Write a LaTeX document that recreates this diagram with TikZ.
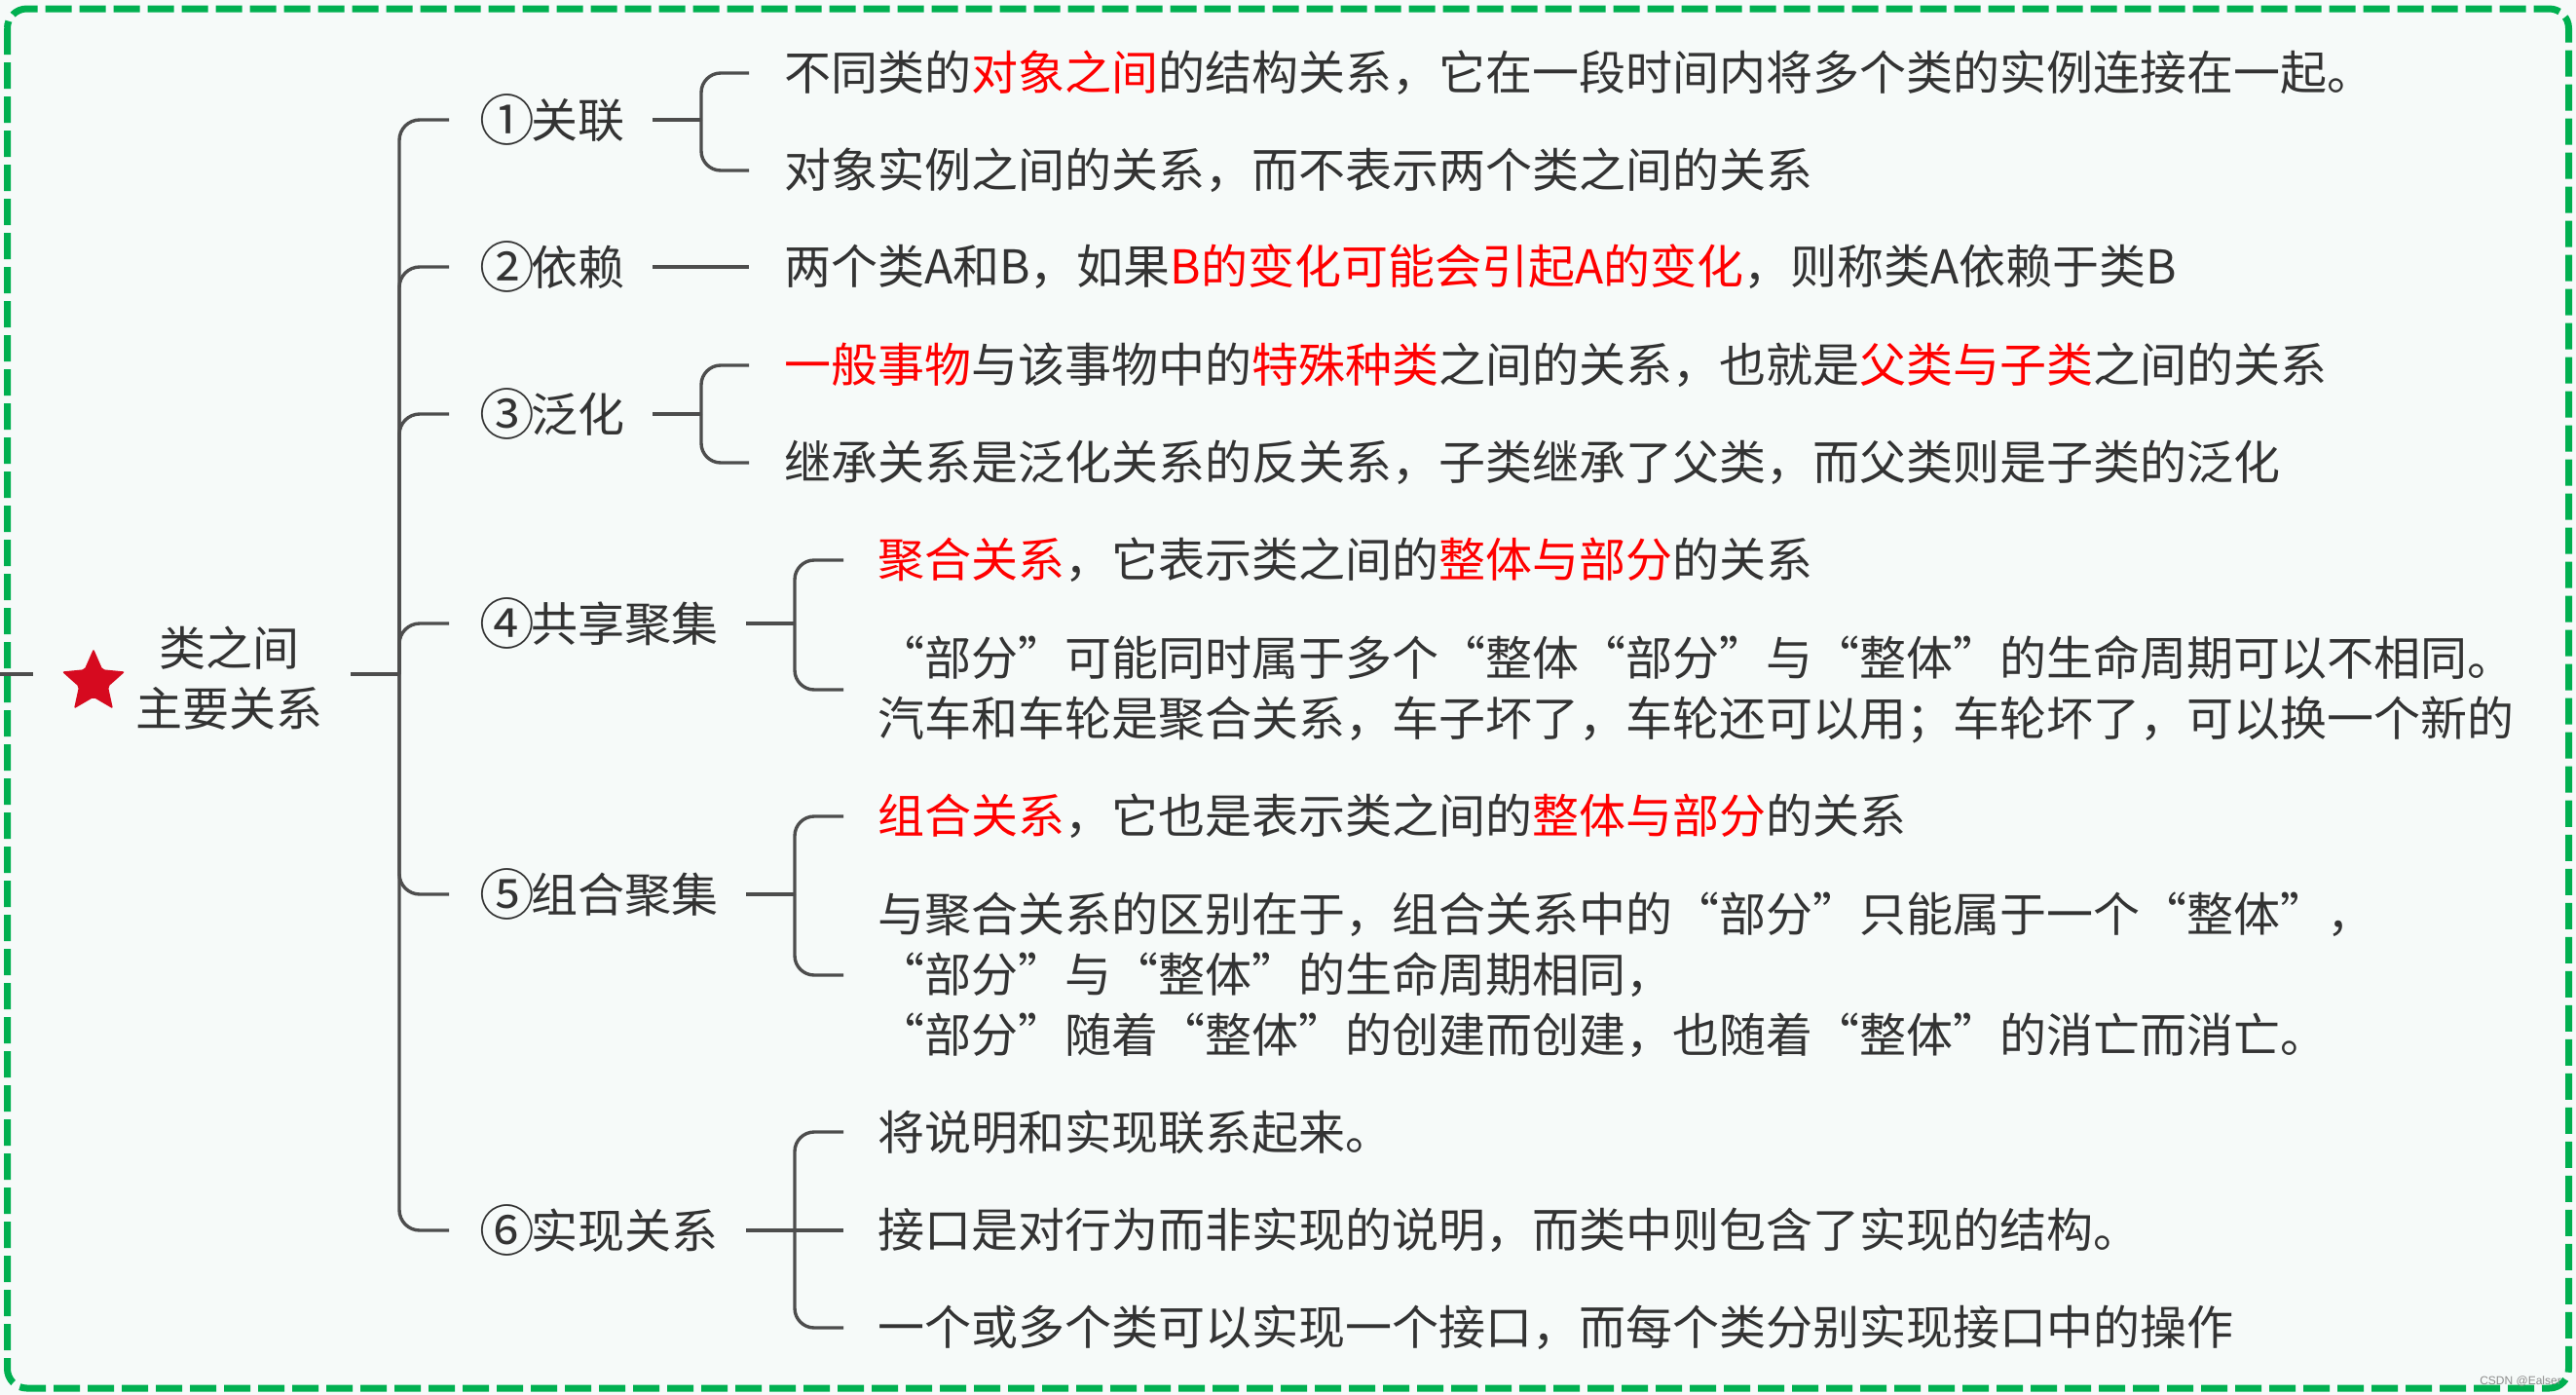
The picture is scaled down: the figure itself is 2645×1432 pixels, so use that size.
\documentclass[tikz,border=0pt]{standalone}
\usepackage{fontspec}
\setmainfont{Noto Sans CJK SC}
\newfontfamily\wmfont{Liberation Sans}
\usetikzlibrary{shapes.geometric}
\definecolor{bgc}{HTML}{F6FAF9}
\definecolor{framec}{HTML}{00B050}
\definecolor{txtc}{HTML}{333333}
\definecolor{lnc}{HTML}{4D4D4D}
\definecolor{hlc}{HTML}{FF0000}
\definecolor{starc}{HTML}{D60A1F}
\newcommand\emr[1]{\textcolor{hlc}{#1}}
\newcommand\oq{\makebox[1em][r]{“}}
\newcommand\cq{\makebox[1em][l]{”}}
\newcommand\circn[1]{\makebox[1em]{\raisebox{-0.07em}{\scalebox{1.18}{#1}}}}
\tikzset{
  conn/.style={draw=lnc, line width=3.4},
  lab/.style={anchor=west, inner sep=0, text=txtc, font=\fontsize{48}{62}\selectfont},
  leaf/.style={anchor=west, inner sep=0, text=txtc, align=left, font=\fontsize{48}{62}\selectfont},
}
\begin{document}
\begin{tikzpicture}[x=1pt,y=-1pt]
\useasboundingbox (0,0) rectangle (2645,1432);
\fill[bgc] (0,0) rectangle (2645,1432);
\draw[framec, line width=7, dash pattern=on 27 off 8, rounded corners=20] (7.5,9) rectangle (2637.5,1425);

% root
\node[star, star points=5, star point ratio=2.15, fill=starc, draw=none, minimum size=68, inner sep=0, rounded corners=2] (star) at (96,700) {};
\node[lab, anchor=center, align=center] (root) at (235,696) {类之间\\主要关系};
\coordinate (ls0) at (0,692);
\coordinate (ls1) at (34,692);
\draw[conn] (ls0) -- (ls1);
\coordinate (rs) at (360,692);
\coordinate (rj) at (410,692);
\draw[conn] (rs) -- (rj);

% branch labels
\node[lab] (l1) at (497,123) {\circn{①}关联};
\node[lab] (l2) at (497,274) {\circn{②}依赖};
\node[lab] (l3) at (497,425) {\circn{③}泛化};
\node[lab] (l4) at (497,640) {\circn{④}共享聚集};
\node[lab] (l5) at (497,918) {\circn{⑤}组合聚集};
\node[lab] (l6) at (497,1263) {\circn{⑥}实现关系};

\foreach \n/\y in {1/123,2/274,3/425,4/640,5/918,6/1263}{
  \coordinate (b\n) at (461,\y);
  \draw[conn, rounded corners=21] (rj) |- (b\n);
}

% leaves
\node[leaf] (c11) at (805,75) {不同类的\emr{对象之间}的结构关系，它在一段时间内将多个类的实例连接在一起。};
\node[leaf] (c12) at (805,175) {对象实例之间的关系，而不表示两个类之间的关系};
\node[leaf] (c21) at (805,274) {两个类A和B，如果\emr{B的变化可能会引起A的变化}，则称类A依赖于类B};
\node[leaf] (c31) at (805,375) {\emr{一般事物}与该事物中的\emr{特殊种类}之间的关系，也就是\emr{父类与子类}之间的关系};
\node[leaf] (c32) at (805,475) {继承关系是泛化关系的反关系，子类继承了父类，而父类则是子类的泛化};
\node[leaf] (c41) at (901,575) {\emr{聚合关系}，它表示类之间的\emr{整体与部分}的关系};
\node[leaf] (c42) at (901,708) {\oq 部分\cq 可能同时属于多个\oq 整体\oq 部分\cq 与\oq 整体\cq 的生命周期可以不相同。\\汽车和车轮是聚合关系，车子坏了，车轮还可以用；车轮坏了，可以换一个新的};
\node[leaf] (c51) at (901,838) {\emr{组合关系}，它也是表示类之间的\emr{整体与部分}的关系};
\node[leaf] (c52) at (901,1001) {与聚合关系的区别在于，组合关系中的\oq 部分\cq 只能属于一个\oq 整体\cq ，\\\oq 部分\cq 与\oq 整体\cq 的生命周期相同，\\\oq 部分\cq 随着\oq 整体\cq 的创建而创建，也随着\oq 整体\cq 的消亡而消亡。};
\node[leaf] (c61) at (901,1162) {将说明和实现联系起来。};
\node[leaf] (c62) at (901,1263) {接口是对行为而非实现的说明，而类中则包含了实现的结构。};
\node[leaf] (c63) at (901,1363) {一个或多个类可以实现一个接口，而每个类分别实现接口中的操作};

% connectors label -> leaves
% (1)
\coordinate (s1) at (670,123); \coordinate (j1) at (720,123);
\draw[conn] (s1) -- (j1);
\coordinate (e11) at (769,75); \coordinate (e12) at (769,175);
\draw[conn, rounded corners=20] (j1) |- (e11);
\draw[conn, rounded corners=20] (j1) |- (e12);
% (2)
\coordinate (s2) at (670,274); \coordinate (e21) at (769,274);
\draw[conn] (s2) -- (e21);
% (3)
\coordinate (s3) at (670,425); \coordinate (j3) at (720,425);
\draw[conn] (s3) -- (j3);
\coordinate (e31) at (769,375); \coordinate (e32) at (769,475);
\draw[conn, rounded corners=20] (j3) |- (e31);
\draw[conn, rounded corners=20] (j3) |- (e32);
% (4)
\coordinate (s4) at (766,640); \coordinate (j4) at (816,640);
\draw[conn] (s4) -- (j4);
\coordinate (e41) at (866,575); \coordinate (e42) at (866,708);
\draw[conn, rounded corners=20] (j4) |- (e41);
\draw[conn, rounded corners=20] (j4) |- (e42);
% (5)
\coordinate (s5) at (766,918); \coordinate (j5) at (816,918);
\draw[conn] (s5) -- (j5);
\coordinate (e51) at (866,838); \coordinate (e52) at (866,1001);
\draw[conn, rounded corners=20] (j5) |- (e51);
\draw[conn, rounded corners=20] (j5) |- (e52);
% (6)
\coordinate (s6) at (766,1263); \coordinate (j6) at (816,1263);
\coordinate (e61) at (866,1162); \coordinate (e62) at (866,1263); \coordinate (e63) at (866,1363);
\draw[conn] (s6) -- (e62);
\draw[conn, rounded corners=20] (j6) |- (e61);
\draw[conn, rounded corners=20] (j6) |- (e63);

\node[anchor=south east, inner sep=0, text=black!45, font=\wmfont\fontsize{12}{12}\selectfont] (wm) at (2630,1423) {CSDN @Ealser};
\end{tikzpicture}
\end{document}
